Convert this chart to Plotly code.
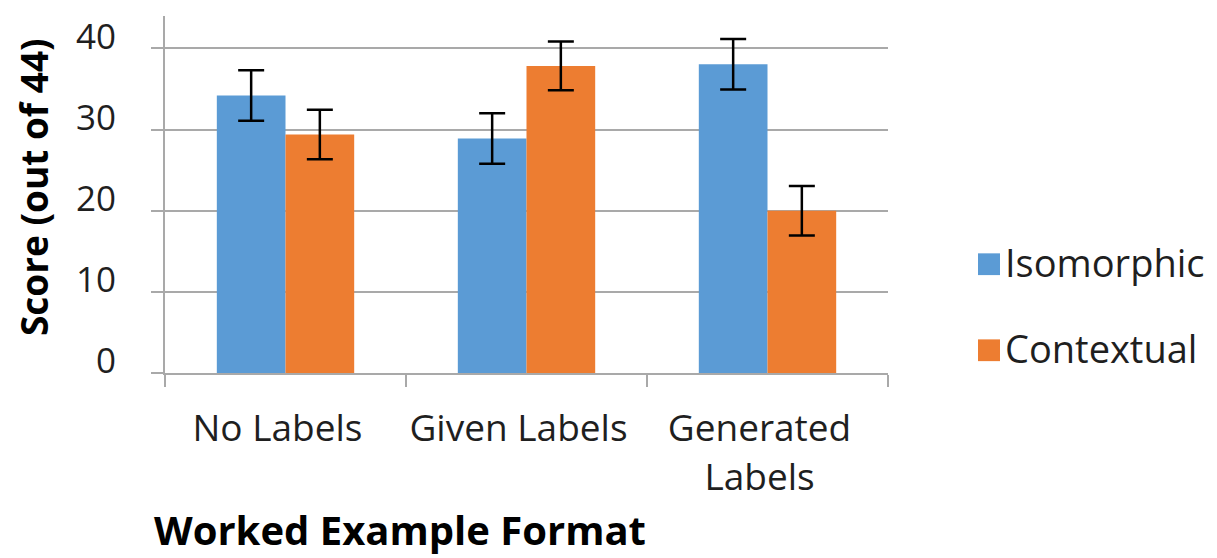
import plotly.graph_objects as go

categories = ["No Labels", "Given Labels", "Generated<br>Labels"]
iso_values = [34.2, 28.9, 38.05]
iso_errors = [3.1, 3.1, 3.1]
ctx_values = [29.4, 37.85, 20.0]
ctx_errors = [3.05, 3.0, 3.05]
series_names = ["Isomorphic", "Contextual"]
y_ticks = [0, 10, 20, 30, 40]

FONT = "Open Sans"
BLUE = "#5B9BD5"
ORANGE = "#ED7D31"
GRID = "#a9a9a9"
TXT = "#1f1f1f"

# page body has an 8px margin -> figure occupies x 8..1217, y 8..558
W, H = 1209, 550
ML, MR, MT, MB = 157, 329, 4, 185
OX, OY = 8, 8
pw = W - ML - MR
ph = H - MT - MB


def px_x(x):
    return (x - OX - ML) / pw


def px_y(y):
    return (OY + MT + ph - y) / ph


fig = go.Figure()
fig.add_trace(go.Bar(
    name=series_names[0], x=categories, y=iso_values, marker_color=BLUE,
    marker_line_width=0, showlegend=False,
    error_y=dict(type="data", array=iso_errors, color="black", thickness=2.5, width=13),
))
fig.add_trace(go.Bar(
    name=series_names[1], x=categories, y=ctx_values, marker_color=ORANGE,
    marker_line_width=0, showlegend=False,
    error_y=dict(type="data", array=ctx_errors, color="black", thickness=2.5, width=13),
))

shapes = []
annotations = []
# legend (squares + labels)
for name, color, ycen in [(series_names[0], BLUE, 263), (series_names[1], ORANGE, 350)]:
    shapes.append(dict(type="rect", xref="paper", yref="paper",
                       x0=px_x(978), x1=px_x(1000), y0=px_y(ycen - 11), y1=px_y(ycen + 11),
                       fillcolor=color, line_width=0))
    annotations.append(dict(text=name, x=px_x(1003), y=px_y(ycen - 2), xref="paper", yref="paper",
                            xanchor="left", yanchor="middle", showarrow=False,
                            font=dict(size=38, color=TXT, family=FONT)))

annotations.append(dict(text="<b>Score (out of 44)</b>", x=px_x(33), y=px_y(185),
                        xref="paper", yref="paper", showarrow=False, textangle=-90,
                        xanchor="center", yanchor="middle", borderpad=0,
                        font=dict(size=37, color="black", family=FONT)))
annotations.append(dict(text="<b>Worked Example Format</b>", x=px_x(153), y=px_y(531),
                        xref="paper", yref="paper", showarrow=False,
                        xanchor="left", yanchor="middle", borderpad=0,
                        font=dict(size=40, color="black", family=FONT)))

fig.update_layout(
    width=W, height=H,
    margin=dict(l=ML, r=MR, t=MT, b=MB, pad=0),
    paper_bgcolor="white", plot_bgcolor="white",
    barmode="group", bargap=0.43, bargroupgap=0,
    font=dict(family=FONT, size=36, color=TXT),
    showlegend=False,
    xaxis=dict(
        showline=True, linecolor=GRID, linewidth=2,
        ticks="outside", tickson="boundaries", ticklen=12, tickcolor=GRID, tickwidth=2,
        tickfont=dict(size=37, color=TXT), showgrid=False,
        ticklabelshift=-8, ticklabelstandoff=22,
    ),
    yaxis=dict(
        range=[0, 44], tickvals=y_ticks, showline=True, linecolor=GRID, linewidth=2,
        ticks="outside", ticklen=12, tickcolor=GRID, tickwidth=2,
        showgrid=True, gridcolor=GRID, gridwidth=2,
        tickfont=dict(size=35, color=TXT), ticklabelstandoff=28, ticklabelshift=-12,
        zeroline=False,
    ),
    shapes=shapes,
    annotations=annotations,
)

fig.write_html("out.html")
